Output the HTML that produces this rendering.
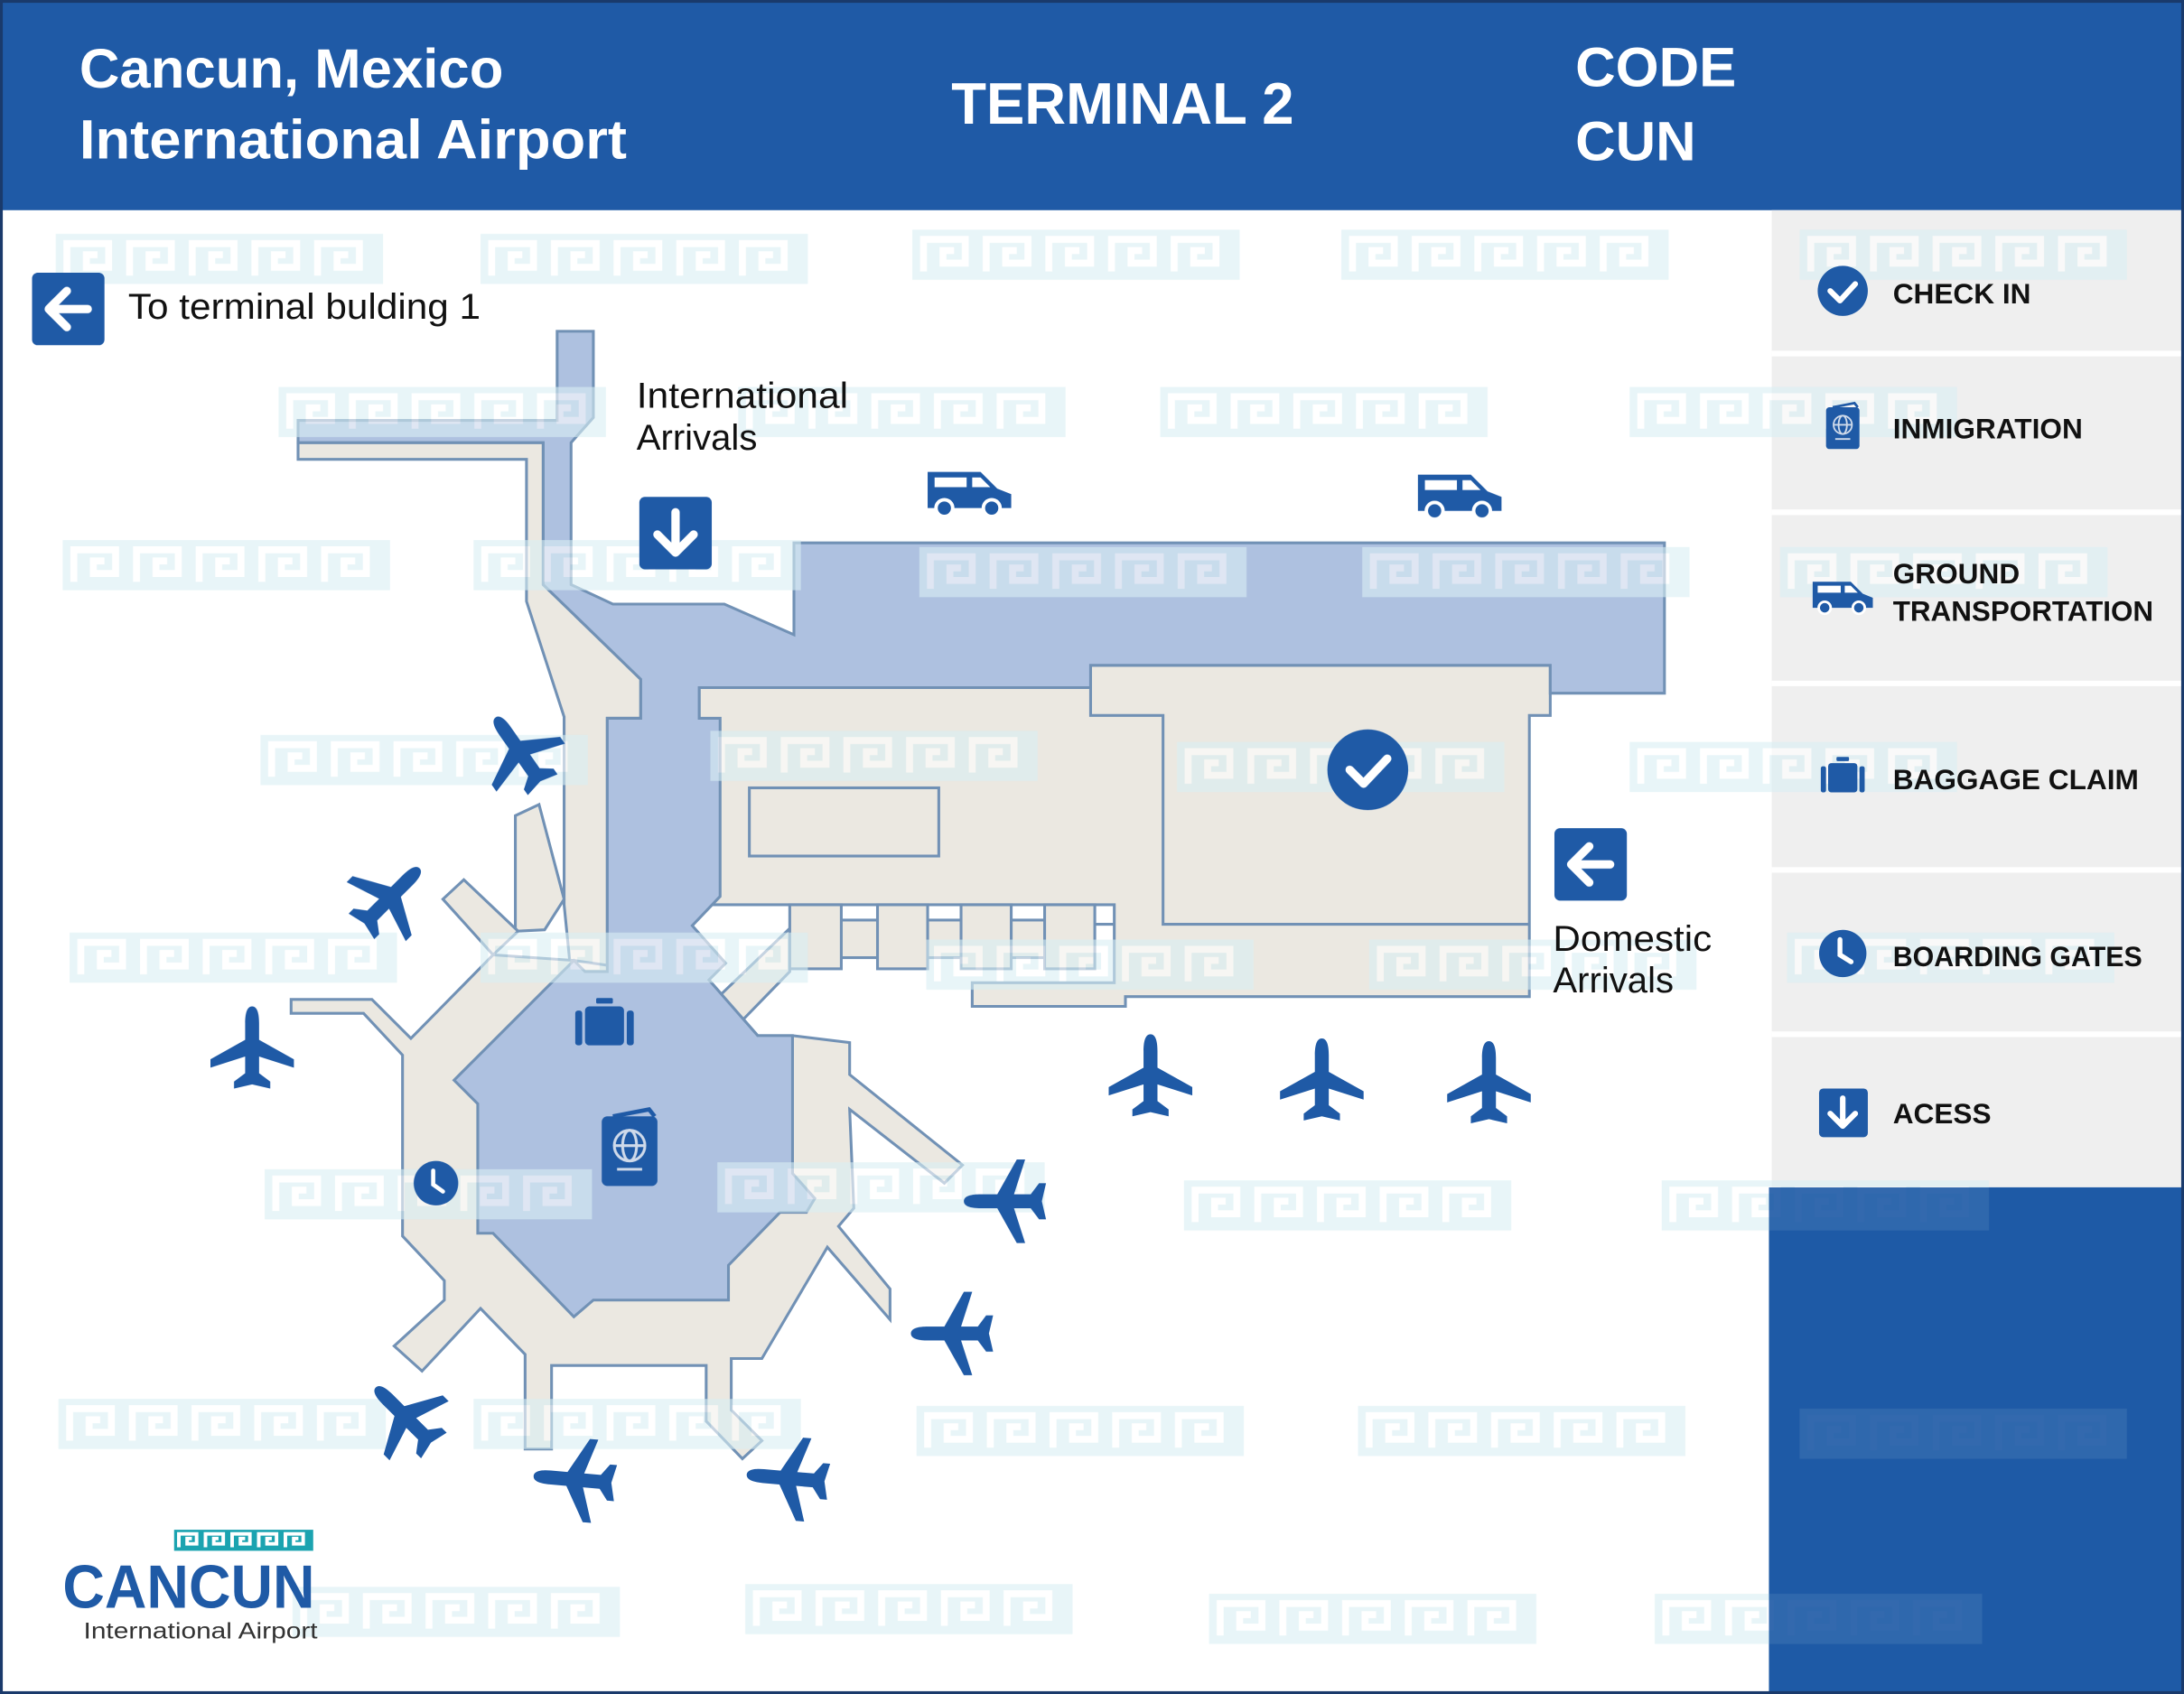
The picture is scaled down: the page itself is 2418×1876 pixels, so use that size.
<!DOCTYPE html>
<html><head><meta charset="utf-8"><style>
html,body{margin:0;padding:0;background:#fff;}
svg{display:block;}
text{font-family:"Liberation Sans",Arial,sans-serif;}
</style></head><body>
<svg width="2418" height="1876" viewBox="0 0 1568 1217" preserveAspectRatio="none" xmlns="http://www.w3.org/2000/svg">
<defs>
<g id="key">
  <rect x="0" y="0" width="235" height="36" fill="#d9eff3"/>
  <g fill="none" stroke="#fff" stroke-width="5">
    <path d="M8,30 L8,7 L38,7 L38,24 L22,24 L22,15 L30,15"/>
    <path d="M53,30 L53,7 L83,7 L83,24 L67,24 L67,15 L75,15"/>
    <path d="M98,30 L98,7 L128,7 L128,24 L112,24 L112,15 L120,15"/>
    <path d="M143,30 L143,7 L173,7 L173,24 L157,24 L157,15 L165,15"/>
    <path d="M188,30 L188,7 L218,7 L218,24 L202,24 L202,15 L210,15"/>
  </g>
</g>
<path id="plane" d="M0,-30 C4,-30 5,-24 5,-18 L5,-6 L30,8 L30,14 L5,6 L5,18 L13,24 L13,29 L0,26 L-13,29 L-13,24 L-5,18 L-5,6 L-30,14 L-30,8 L-5,-6 L-5,-18 C-5,-24 -4,-30 0,-30Z" fill="#1f5aa6"/>
<g id="van">
  <path d="M-30,-14 L8,-14 L20,-2 L30,2 L30,12 L-30,12 Z" fill="#1f5aa6"/>
  <path d="M-25,-10 L-2,-10 L-2,-3 L-25,-3Z M2,-10 L8,-10 L15,-3 L2,-3Z" fill="#fff"/>
  <circle cx="-18" cy="12" r="6" fill="#1f5aa6" stroke="#fff" stroke-width="2.5"/>
  <circle cx="16" cy="12" r="6" fill="#1f5aa6" stroke="#fff" stroke-width="2.5"/>
</g>
<g id="bag">
  <rect x="-14" y="-13" width="28" height="28" rx="3" fill="#1f5aa6"/>
  <rect x="-21" y="-10" width="5" height="25" rx="2" fill="#1f5aa6"/>
  <rect x="16" y="-10" width="5" height="25" rx="2" fill="#1f5aa6"/>
  <rect x="-6" y="-19" width="12" height="4" rx="1" fill="#1f5aa6"/>
</g>
<g id="pass">
  <rect x="-20" y="-24" width="40" height="50" rx="4" fill="#1f5aa6"/>
  <path d="M-12,-24 L14,-29 L18,-24" fill="none" stroke="#1f5aa6" stroke-width="3"/>
  <circle cx="0" cy="-3" r="11" fill="none" stroke="#cfdaea" stroke-width="2"/>
  <ellipse cx="0" cy="-3" rx="5" ry="11" fill="none" stroke="#cfdaea" stroke-width="2"/>
  <line x1="-11" y1="-3" x2="11" y2="-3" stroke="#cfdaea" stroke-width="2"/>
  <line x1="-9" y1="14" x2="9" y2="14" stroke="#cfdaea" stroke-width="2"/>
</g>
</defs>

<rect width="1568" height="1217" fill="#fff"/>
<!-- header -->
<rect x="0" y="0" width="1568" height="151" fill="#1f5aa6"/>
<text x="57" y="63" font-size="40" font-weight="bold" fill="#fff">Cancun, Mexico</text>
<text x="57" y="114" font-size="40" font-weight="bold" fill="#fff" textLength="393" lengthAdjust="spacingAndGlyphs">International Airport</text>
<text x="683" y="89" font-size="42" font-weight="bold" fill="#fff" textLength="246" lengthAdjust="spacingAndGlyphs">TERMINAL 2</text>
<text x="1131" y="62" font-size="40" font-weight="bold" fill="#fff">CODE</text>
<text x="1131" y="115" font-size="40" font-weight="bold" fill="#fff">CUN</text>

<!-- sidebar -->
<rect x="1272" y="151" width="296" height="702" fill="#efefef"/>
<g fill="#fff">
<rect x="1272" y="252" width="296" height="4"/>
<rect x="1272" y="366" width="296" height="4"/>
<rect x="1272" y="489" width="296" height="4"/>
<rect x="1272" y="623" width="296" height="4"/>
<rect x="1272" y="741" width="296" height="4"/>
</g>
<rect x="1270" y="853" width="298" height="364" fill="#1f5aa6"/>

<!-- map beige -->
<g fill="#ebe8e1" stroke="#7191b5" stroke-width="2" stroke-linejoin="miter">
<polygon points="214,318 390,318 390,420 460,488 460,516 436,516 436,700 410,700 405,650 405,515 378,432 378,330 214,330"/>
<polygon points="370,586 387,578 405,646 391,668 370,669"/>
<polygon points="318,646 333,632 372,669 354,686"/>
<polygon points="412,690 354,686 295,746 267,718 209,718 209,728 261,728 289,758 289,888 319,920 319,934 283,967 303,985 345,940 377,973 377,1041 396,1041 396,981 507,981 507,1021 533,1048 547,1035 525,1013 525,976 547,976 594,896 639,948 639,926 602,881 613,868 610,797 678,850 691,837 610,772 610,749 569,744 544,744 509,704"/>
<polygon points="502,494 783,494 783,478 1113,478 1113,514 1098,514 1098,716 808,716 808,723 698,723 698,706 800,706 800,650 517,650 502,650"/>
<polygon points="567,667 567,698 533,733 517,715"/>
<rect x="538" y="566" width="136" height="49"/>
<rect x="603" y="661" width="148" height="27"/>
<rect x="567" y="650" width="37" height="46"/>
<rect x="630" y="650" width="36" height="46"/>
<rect x="690" y="650" width="36" height="46"/>
<rect x="750" y="650" width="36" height="46"/>
<polyline points="783,494 783,514 835,514 835,664 1098,664" fill="none"/>
<line x1="786" y1="664" x2="800" y2="664"/>
</g>
<!-- map blue -->
<g fill="#aec1e0" stroke="#7191b5" stroke-width="2">
<polygon points="400,238 426,238 426,300 410,318 410,420 440,434 520,434 570,456 570,390 1195,390 1195,498 1113,498 1113,478 783,478 783,494 502,494 502,516 517,516 517,644 497,665 521,692 509,704 544,744 569,744 569,843 585,861 579,871 560,871 523,909 523,934 426,934 412,946 354,886 343,886 343,793 326,776 412,690 420,698 436,698 436,516 460,516 460,488 390,420 390,318 214,318 214,302 400,302"/>
</g>

<!-- watermarks -->
<g opacity="0.6">
<use href="#key" x="40" y="168"/><use href="#key" x="345" y="168"/><use href="#key" x="655" y="165"/><use href="#key" x="963" y="165"/><use href="#key" x="1292" y="165"/>
<use href="#key" x="200" y="278"/><use href="#key" x="530" y="278"/><use href="#key" x="833" y="278"/><use href="#key" x="1170" y="278"/>
<use href="#key" x="45" y="388"/><use href="#key" x="340" y="388"/><use href="#key" x="660" y="393"/><use href="#key" x="978" y="393"/><use href="#key" x="1278" y="393"/>
<use href="#key" x="187" y="528"/><use href="#key" x="510" y="525"/><use href="#key" x="845" y="533"/><use href="#key" x="1170" y="533"/>
<use href="#key" x="50" y="670"/><use href="#key" x="345" y="670"/><use href="#key" x="665" y="675"/><use href="#key" x="983" y="675"/><use href="#key" x="1283" y="670"/>
<use href="#key" x="190" y="840"/><use href="#key" x="515" y="835"/><use href="#key" x="850" y="848"/><use href="#key" x="1193" y="848"/>
<use href="#key" x="42" y="1005"/><use href="#key" x="340" y="1005"/><use href="#key" x="658" y="1010"/><use href="#key" x="975" y="1010"/><use href="#key" x="1292" y="1012"/>
<use href="#key" x="210" y="1140"/><use href="#key" x="535" y="1138"/><use href="#key" x="868" y="1145"/><use href="#key" x="1188" y="1145"/>
</g>
<rect x="1270" y="853" width="298" height="364" fill="#1f5aa6" opacity="0.85"/>

<!-- map icons -->
<circle cx="982" cy="553" r="29" fill="#1f5aa6"/>
<path d="M969,553 L979,563 L996,545" fill="none" stroke="#fff" stroke-width="6" stroke-linecap="round" stroke-linejoin="round"/>
<use href="#bag" x="434" y="736"/>
<use href="#pass" x="452" y="826"/>
<circle cx="313" cy="850" r="16" fill="#1f5aa6"/>
<path d="M311,841 L311,851 L318,856" fill="none" stroke="#fff" stroke-width="3" stroke-linecap="round"/>
<use href="#van" x="696" y="353"/>
<use href="#van" x="1048" y="355"/>

<!-- arrows -->
<rect x="23" y="196" width="52" height="52" rx="4" fill="#1f5aa6"/>
<path d="M63,222 L36,222 M48,209 L35,222 L48,235" fill="none" stroke="#fff" stroke-width="6" stroke-linecap="round" stroke-linejoin="round"/>
<rect x="459" y="357" width="52" height="52" rx="4" fill="#1f5aa6"/>
<path d="M485,368 L485,396 M472,384 L485,397 L498,384" fill="none" stroke="#fff" stroke-width="6" stroke-linecap="round" stroke-linejoin="round"/>
<rect x="1116" y="595" width="52" height="52" rx="4" fill="#1f5aa6"/>
<path d="M1156,621 L1129,621 M1141,608 L1128,621 L1141,634" fill="none" stroke="#fff" stroke-width="6" stroke-linecap="round" stroke-linejoin="round"/>

<!-- planes -->
<use href="#plane" transform="translate(373,540) rotate(-35)"/>
<use href="#plane" transform="translate(280,645) rotate(45)"/>
<use href="#plane" transform="translate(181,753)"/>
<use href="#plane" transform="translate(826,773)"/>
<use href="#plane" transform="translate(949,776)"/>
<use href="#plane" transform="translate(1069,778)"/>
<use href="#plane" transform="translate(722,863) rotate(-90)"/>
<use href="#plane" transform="translate(684,958) rotate(-90)"/>
<use href="#plane" transform="translate(291,1018) rotate(-45)"/>
<use href="#plane" transform="translate(413,1063) rotate(-85)"/>
<use href="#plane" transform="translate(566,1062) rotate(-85)"/>

<!-- labels -->
<text x="92" y="229" font-size="26" fill="#111" textLength="253" lengthAdjust="spacingAndGlyphs">To terminal bulding 1</text>
<text x="457" y="293" font-size="26" fill="#111" textLength="152" lengthAdjust="spacingAndGlyphs">International</text>
<text x="457" y="323" font-size="26" fill="#111">Arrivals</text>
<text x="1115" y="683" font-size="26" fill="#111" textLength="114" lengthAdjust="spacingAndGlyphs">Domestic</text>
<text x="1115" y="713" font-size="26" fill="#111">Arrivals</text>

<!-- sidebar items -->
<circle cx="1323" cy="209" r="18" fill="#1f5aa6"/>
<path d="M1314,209 L1321,216 L1332,204" fill="none" stroke="#fff" stroke-width="4" stroke-linecap="round" stroke-linejoin="round"/>
<use href="#pass" transform="translate(1323,307) scale(0.6)"/>
<use href="#van" transform="translate(1323,428) scale(0.72)"/>
<use href="#bag" transform="translate(1323,558) scale(0.75)"/>
<circle cx="1323" cy="685" r="17" fill="#1f5aa6"/>
<path d="M1321,675 L1321,686 L1329,691" fill="none" stroke="#fff" stroke-width="3.5" stroke-linecap="round"/>
<rect x="1306" y="782" width="35" height="35" rx="3" fill="#1f5aa6"/>
<path d="M1323,789 L1323,809 M1314,800 L1323,809 L1332,800" fill="none" stroke="#fff" stroke-width="4" stroke-linecap="round" stroke-linejoin="round"/>
<g font-size="20.5" font-weight="bold" fill="#111">
<text x="1359" y="218">CHECK IN</text>
<text x="1359" y="315">INMIGRATION</text>
<text x="1359" y="419">GROUND</text>
<text x="1359" y="446" textLength="187" lengthAdjust="spacingAndGlyphs">TRANSPORTATION</text>
<text x="1359" y="567">BAGGAGE CLAIM</text>
<text x="1359" y="694" textLength="179" lengthAdjust="spacingAndGlyphs">BOARDING GATES</text>
<text x="1359" y="807">ACESS</text>
</g>

<!-- logo -->
<g transform="translate(125,1099) scale(0.425,0.42)">
  <rect x="0" y="0" width="235" height="36" fill="#1ba3b0"/>
  <g fill="none" stroke="#fff" stroke-width="6">
    <path d="M8,30 L8,7 L38,7 L38,24 L22,24 L22,15 L30,15"/>
    <path d="M53,30 L53,7 L83,7 L83,24 L67,24 L67,15 L75,15"/>
    <path d="M98,30 L98,7 L128,7 L128,24 L112,24 L112,15 L120,15"/>
    <path d="M143,30 L143,7 L173,7 L173,24 L157,24 L157,15 L165,15"/>
    <path d="M188,30 L188,7 L218,7 L218,24 L202,24 L202,15 L210,15"/>
  </g>
</g>
<text x="45" y="1155" font-size="44" font-weight="bold" fill="#1f5aa6" textLength="181" lengthAdjust="spacingAndGlyphs">CANCUN</text>
<text x="60" y="1177" font-size="16" fill="#333" textLength="168" lengthAdjust="spacingAndGlyphs">International Airport</text>

<!-- border -->
<rect x="1" y="1" width="1566" height="1215" fill="none" stroke="#1a3a6b" stroke-width="2"/>
</svg>
</body></html>
